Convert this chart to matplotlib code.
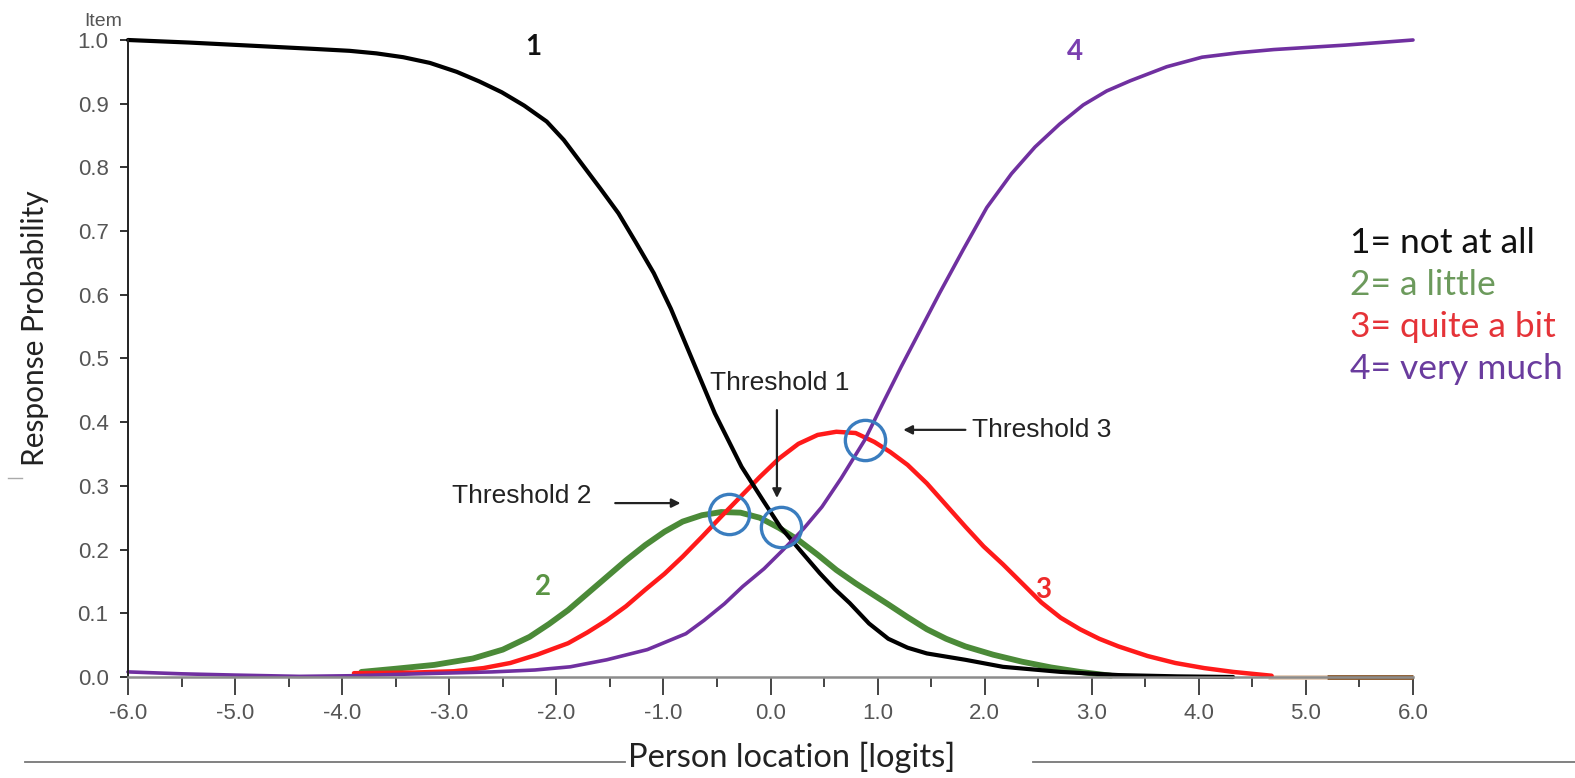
import matplotlib
matplotlib.use("Agg")
import matplotlib.pyplot as plt
from matplotlib.ticker import MultipleLocator, FormatStrFormatter

# ---------------- data ----------------
cat1_x = [-6.0, -5.43, -4.84, -4.26, -3.93, -3.68, -3.43, -3.18, -2.93, -2.72, -2.51,
          -2.30, -2.09, -1.93, -1.76, -1.59, -1.42, -1.26, -1.09, -0.93, -0.76, -0.52,
          -0.27, -0.065, 0.09, 0.276, 0.46, 0.60, 0.74, 0.92, 1.10, 1.28, 1.46, 1.82,
          2.17, 2.71, 3.25, 3.8, 4.32]
cat1_y = [1.000, 0.996, 0.991, 0.986, 0.983, 0.979, 0.973, 0.964, 0.950, 0.935, 0.918,
          0.897, 0.872, 0.843, 0.805, 0.767, 0.728, 0.683, 0.634, 0.578, 0.510, 0.414,
          0.330, 0.276, 0.236, 0.199, 0.163, 0.138, 0.116, 0.084, 0.060, 0.046, 0.037,
          0.027, 0.016, 0.008, 0.003, 0.001, 0.000]

cat2_x = [-3.82, -3.50, -3.14, -2.78, -2.50, -2.25, -2.07, -1.89, -1.71, -1.53, -1.35,
          -1.17, -0.99, -0.82, -0.64, -0.46, -0.28, -0.10, 0.08, 0.26, 0.44, 0.615,
          0.795, 0.97, 1.10, 1.28, 1.46, 1.64, 1.82, 2.08, 2.35, 2.62, 2.89, 3.18]
cat2_y = [0.008, 0.013, 0.019, 0.029, 0.043, 0.063, 0.083, 0.105, 0.131, 0.157, 0.183,
          0.207, 0.228, 0.244, 0.254, 0.259, 0.258, 0.250, 0.234, 0.215, 0.192, 0.168,
          0.147, 0.128, 0.114, 0.094, 0.075, 0.060, 0.048, 0.035, 0.024, 0.015, 0.008,
          0.002]

cat3_x = [-3.89, -3.32, -2.96, -2.68, -2.43, -2.18, -1.89, -1.71, -1.53, -1.35, -1.17,
          -0.99, -0.82, -0.64, -0.46, -0.28, -0.10, 0.08, 0.26, 0.44, 0.615, 0.795,
          0.97, 1.12, 1.28, 1.46, 1.64, 1.82, 1.99, 2.17, 2.35, 2.53, 2.71, 2.89, 3.07,
          3.25, 3.52, 3.78, 4.05, 4.32, 4.68]
cat3_y = [0.006, 0.007, 0.009, 0.014, 0.022, 0.035, 0.053, 0.070, 0.089, 0.111, 0.137,
          0.162, 0.189, 0.220, 0.252, 0.283, 0.314, 0.343, 0.366, 0.380, 0.385, 0.383,
          0.369, 0.353, 0.333, 0.304, 0.270, 0.236, 0.205, 0.177, 0.147, 0.117, 0.093,
          0.075, 0.060, 0.048, 0.033, 0.022, 0.014, 0.008, 0.002]

cat4_x = [-6.0, -5.5, -5.0, -4.4, -3.9, -3.3, -2.6, -2.2, -1.87, -1.53, -1.15, -0.79,
          -0.62, -0.43, -0.26, -0.06, 0.12, 0.31, 0.48, 0.66, 0.88, 1.05, 1.22, 1.40,
          1.58, 1.80, 2.02, 2.25, 2.47, 2.70, 2.92, 3.14, 3.36, 3.70, 4.03, 4.37, 4.70,
          5.37, 6.0]
cat4_y = [0.008, 0.005, 0.003, 0.001, 0.002, 0.005, 0.008, 0.011, 0.016, 0.027, 0.043,
          0.068, 0.089, 0.115, 0.142, 0.170, 0.200, 0.233, 0.267, 0.312, 0.372, 0.430,
          0.487, 0.545, 0.603, 0.671, 0.737, 0.790, 0.832, 0.868, 0.898, 0.920, 0.936,
          0.958, 0.973, 0.980, 0.985, 0.992, 1.000]

# other (hidden) curves visible only at the zero line
tail_a_x = [4.65, 5.2]
tail_a_y = [0.0, 0.0]
tail_b_x = [5.2, 6.0]
tail_b_y = [0.0, 0.0]

# threshold crossings (circled)
thr_x = [-0.39, 0.10, 0.88]
thr_y = [0.256, 0.235, 0.372]

curve_labels = ["1", "2", "3", "4"]
legend_labels = ["1= not at all", "2= a little", "3= quite a bit", "4= very much"]
x_ticks = [-6, -5, -4, -3, -2, -1, 0, 1, 2, 3, 4, 5, 6]

# ---------------- styling ----------------
C1, C2, C3, C4 = "#000000", "#4b8a38", "#ff1a1a", "#7030a0"
LEG = ["#111111", "#6c9a5c", "#e53338", "#6a3c9e"]
TXT = "Lato"
TICKF = "Liberation Sans"

W, H = 1575, 778
fig = plt.figure(figsize=(W / 100, H / 100), dpi=100)
L, R, B, T = 128, 1413, 677, 40
ax = fig.add_axes([L / W, 1 - B / H, (R - L) / W, (B - T) / H])

ax.plot(tail_a_x, tail_a_y, color="#e6cdb8", lw=3.5, solid_capstyle="butt", clip_on=False)
ax.plot(tail_b_x, tail_b_y, color="#8a5a2e", lw=3.5, solid_capstyle="butt", clip_on=False)
ax.plot(cat2_x, cat2_y, color=C2, lw=4.2, clip_on=False, solid_capstyle="round",
        solid_joinstyle="round")
ax.plot(cat3_x, cat3_y, color=C3, lw=3.2, clip_on=False, solid_capstyle="round",
        solid_joinstyle="round")
ax.plot(cat1_x, cat1_y, color=C1, lw=3.0, clip_on=False, solid_capstyle="round",
        solid_joinstyle="round")
ax.plot(cat4_x, cat4_y, color=C4, lw=2.6, clip_on=False, solid_capstyle="round",
        solid_joinstyle="round")

ax.plot(thr_x, thr_y, linestyle="none", marker="o", markersize=29,
        markerfacecolor="none", markeredgecolor="#3a7dbf", markeredgewidth=2.4,
        clip_on=False)

ax.set_xlim(-6, 6)
ax.set_ylim(0, 1.0)
ax.set_xticks(x_ticks)
ax.xaxis.set_major_formatter(FormatStrFormatter("%.1f"))
ax.xaxis.set_minor_locator(MultipleLocator(0.5))
ax.yaxis.set_major_locator(MultipleLocator(0.1))
ax.yaxis.set_major_formatter(FormatStrFormatter("%.1f"))

for s in ["top", "right"]:
    ax.spines[s].set_visible(False)
ax.spines["left"].set_color("#222222")
ax.spines["left"].set_linewidth(1.4)
ax.spines["bottom"].set_color("#8c8c8c")
ax.spines["bottom"].set_linewidth(1.8)

ax.tick_params(axis="y", direction="out", length=6, width=1.4, color="#333333",
               pad=8, labelsize=16, labelcolor="#555555")
ax.tick_params(axis="x", which="major", direction="out", length=13, width=1.4,
               color="#444444", pad=6, labelsize=16, labelcolor="#555555")
ax.tick_params(axis="x", which="minor", direction="out", length=7, width=1.4,
               color="#444444")
for lab in ax.get_xticklabels() + ax.get_yticklabels():
    lab.set_family(TICKF)

# curve number labels
ax.text(-2.22, 0.989, curve_labels[0], color="#111111", fontsize=20, fontweight="bold",
        family=TXT, ha="center", va="center")
ax.text(-2.12, 0.141, curve_labels[1], color="#5a9444", fontsize=20, fontweight="bold",
        family=TXT, ha="center", va="center")
ax.text(2.55, 0.137, curve_labels[2], color="#ee2a2a", fontsize=20, fontweight="bold",
        family=TXT, ha="center", va="center")
ax.text(2.84, 0.981, curve_labels[3], color="#7a3fb0", fontsize=20, fontweight="bold",
        family=TXT, ha="center", va="center")

# threshold annotations
ax.text(0.09, 0.462, "Threshold 1", fontsize=19, family=TICKF, color="#222222",
        ha="center", va="center")
ax.annotate("", xy=(0.06, 0.281), xytext=(0.06, 0.419),
            arrowprops=dict(arrowstyle="-|>", color="#222222", lw=1.6,
                            mutation_scale=13, shrinkA=0, shrinkB=0))
ax.text(-1.667, 0.284, "Threshold 2", fontsize=19, family=TICKF, color="#222222",
        ha="right", va="center")
ax.annotate("", xy=(-0.84, 0.273), xytext=(-1.45, 0.273),
            arrowprops=dict(arrowstyle="-|>", color="#222222", lw=1.6,
                            mutation_scale=13, shrinkA=0, shrinkB=0))
ax.text(1.88, 0.388, "Threshold 3", fontsize=19, family=TICKF, color="#222222",
        ha="left", va="center")
ax.annotate("", xy=(1.24, 0.388), xytext=(1.82, 0.388),
            arrowprops=dict(arrowstyle="-|>", color="#222222", lw=1.6,
                            mutation_scale=13, shrinkA=0, shrinkB=0))

# legend text block
for i, (txt, col) in enumerate(zip(legend_labels, LEG)):
    fig.text(1350 / W, 1 - (243 + 42 * i) / H, txt, color=col, fontsize=25.5,
             family=TXT, ha="left", va="center")

# axis titles
fig.text(35 / W, 1 - 328 / H, "Response Probability", rotation=90, fontsize=21.5,
         family=TXT, color="#222222", ha="center", va="center")
fig.text(792 / W, 1 - 757 / H, "Person location [logits]", fontsize=23.5,
         family=TXT, color="#222222", ha="center", va="center")
fig.text(103 / W, 1 - 21 / H, "Item", fontsize=14, family=TICKF, color="#555555",
         ha="center", va="center")

# separator lines around x title
fig.add_artist(plt.Line2D([25 / W, 625 / W], [1 - 762 / H, 1 - 762 / H],
                          color="#777777", lw=1.3))
fig.add_artist(plt.Line2D([1033 / W, 1575 / W], [1 - 762 / H, 1 - 762 / H],
                          color="#777777", lw=1.3))
fig.add_artist(plt.Line2D([8 / W, 22 / W], [1 - 478 / H, 1 - 478 / H],
                          color="#aaaaaa", lw=1.0))

fig.savefig("out.png", dpi=100, facecolor="white")
